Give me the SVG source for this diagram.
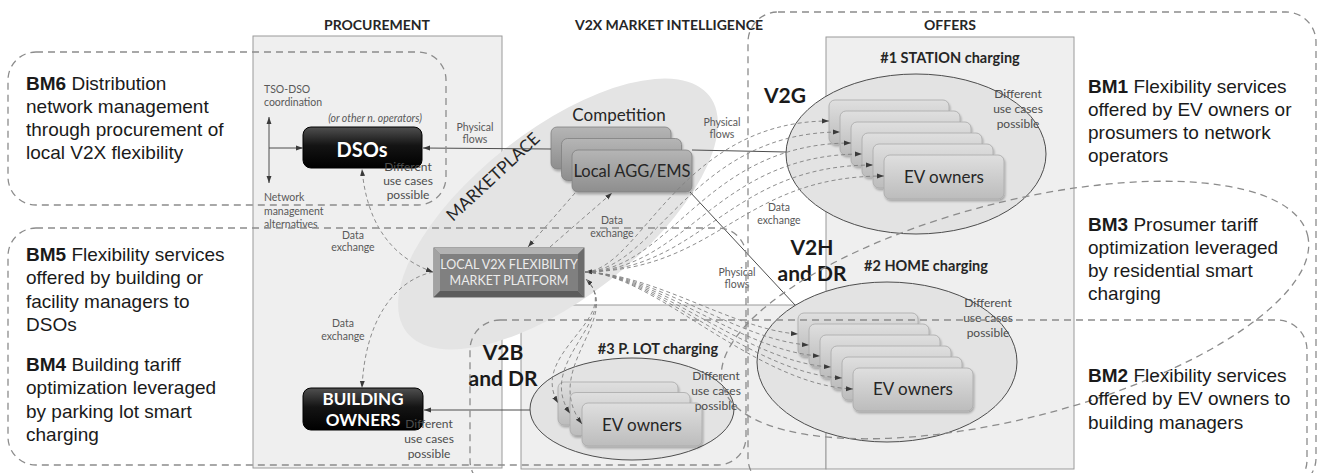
<svg xmlns="http://www.w3.org/2000/svg" width="1321" height="473" viewBox="0 0 1321 473">
<defs>
<linearGradient id="gBlk" x1="0" y1="0" x2="0" y2="1"><stop offset="0" stop-color="#505050"/><stop offset="0.45" stop-color="#141414"/><stop offset="1" stop-color="#000"/></linearGradient>
<linearGradient id="gEV" x1="0" y1="0" x2="0" y2="1"><stop offset="0" stop-color="#dfdfdf"/><stop offset="1" stop-color="#bcbcbc"/></linearGradient>
<linearGradient id="gAgg" x1="0" y1="0" x2="0" y2="1"><stop offset="0" stop-color="#b5b5b5"/><stop offset="1" stop-color="#8e8e8e"/></linearGradient>
<filter id="sh" x="-10%" y="-15%" width="125%" height="150%"><feDropShadow dx="1" dy="2" stdDeviation="1.3" flood-color="#000" flood-opacity="0.28"/></filter>
<marker id="ah" viewBox="0 0 10 10" refX="10" refY="5" markerUnits="userSpaceOnUse" markerWidth="7" markerHeight="7" orient="auto-start-reverse"><path d="M0,1.5 L10,5 L0,8.5 z" fill="#3a3a3a"/></marker>
<style>
.panel{fill:#efefef;stroke:#9a9a9a;stroke-width:1}
.ell{fill:#e3e3e3;stroke:#4d4d4d;stroke-width:1}
.ev{fill:url(#gEV);stroke:#a8a8a8;stroke-width:0.8}
.agg{fill:url(#gAgg);stroke:#808080;stroke-width:0.8}
.blk{fill:url(#gBlk);stroke:#000;stroke-width:1}
.bm{fill:none;stroke:#8c8c8c;stroke-width:1.3;stroke-dasharray:7 5}
.phys{fill:none;stroke:#4d4d4d;stroke-width:1}
.data{fill:none;stroke:#808080;stroke-width:0.9;stroke-dasharray:4 3}
.f{font-family:Lato,"Open Sans","DejaVu Sans",sans-serif}
.ttl{font-weight:bold;font-size:14px;fill:#262626;text-anchor:middle}
.hd{font-weight:bold;font-size:14.5px;fill:#262626;text-anchor:middle}
.v2{font-weight:bold;font-size:21px;fill:#1a1a1a;text-anchor:middle}
.sm{font-size:10.5px;fill:#595959;text-anchor:middle}
.sml{font-size:10.5px;fill:#595959}
.diff{font-size:12px;fill:#4d4d4d;text-anchor:middle}
.evt{font-size:17px;fill:#262626;text-anchor:middle}
.wt{font-weight:bold;fill:#fff;text-anchor:middle}
.bmt{font-family:"Liberation Sans",Arial,sans-serif;font-size:19px;fill:#1a1a1a}
</style>
</defs>
<rect width="1321" height="473" fill="#fff"/>

<!-- panels -->
<g id="panels">
<rect class="panel" x="253" y="36" width="249" height="432"/>
<rect class="panel" x="521" y="305" width="305" height="164" fill="#f3f3f3"/>
<rect class="panel" x="826" y="37" width="248" height="432"/>
</g>
<ellipse id="marketplace" cx="558" cy="214" rx="192" ry="84" transform="rotate(-38 558 214)" fill="#e4e4e4"/>
<text class="f" x="0" y="0" font-size="17" fill="#262626" text-anchor="middle" transform="translate(497 181) rotate(-43)">MARKETPLACE</text>

<!-- titles -->
<text class="f ttl" x="377" y="30">PROCUREMENT</text>
<text class="f ttl" x="669" y="30">V2X MARKET INTELLIGENCE</text>
<text class="f ttl" x="950" y="30">OFFERS</text>
<text class="f hd" x="950" y="63">#1 STATION charging</text>
<text class="f hd" x="926" y="271">#2 HOME charging</text>
<text class="f hd" x="658" y="354">#3 P. LOT charging</text>
<text class="f v2" x="785" y="103">V2G</text>
<text class="f v2" x="812" y="255">V2H</text>
<text class="f v2" x="812" y="281">and DR</text>
<text class="f v2" x="503" y="360">V2B</text>
<text class="f v2" x="503" y="386">and DR</text>

<!-- station -->
<g id="station-ev-owners">
<ellipse class="ell" cx="916" cy="154" rx="130" ry="80"/>
<g filter="url(#sh)">
<rect class="ev" x="829" y="100" width="120" height="44" rx="6"/>
<rect class="ev" x="840" y="111" width="120" height="44" rx="6"/>
<rect class="ev" x="851" y="122" width="120" height="44" rx="6"/>
<rect class="ev" x="862" y="133" width="120" height="44" rx="6"/>
<rect class="ev" x="873" y="144" width="120" height="44" rx="6"/>
<rect class="ev" x="884" y="155" width="120" height="44" rx="6"/>
</g>
<text class="f evt" x="944" y="183">EV owners</text>
</g>

<!-- home -->
<g id="home-ev-owners">
<ellipse class="ell" cx="887" cy="362" rx="130" ry="80"/>
<g filter="url(#sh)">
<rect class="ev" x="798" y="313" width="120" height="43" rx="6"/>
<rect class="ev" x="809" y="324" width="120" height="43" rx="6"/>
<rect class="ev" x="820" y="335" width="120" height="43" rx="6"/>
<rect class="ev" x="831" y="346" width="120" height="43" rx="6"/>
<rect class="ev" x="842" y="357" width="120" height="43" rx="6"/>
<rect class="ev" x="853" y="368" width="120" height="43" rx="6"/>
</g>
<text class="f evt" x="913" y="395">EV owners</text>
</g>

<!-- parking lot -->
<g id="plot-ev-owners">
<ellipse class="ell" cx="632" cy="409" rx="102" ry="51"/>
<g filter="url(#sh)">
<rect class="ev" x="558" y="382" width="120" height="43" rx="6"/>
<rect class="ev" x="570" y="392.5" width="120" height="43" rx="6"/>
<rect class="ev" x="582" y="403" width="120" height="43" rx="6"/>
</g>
<text class="f evt" x="642" y="431">EV owners</text>
</g>

<!-- aggregators -->
<g id="local-agg">
<text class="f" x="619" y="121" font-size="17" fill="#262626" text-anchor="middle">Competition</text>
<g filter="url(#sh)">
<rect class="agg" x="551" y="127" width="120" height="42" rx="6"/>
<rect class="agg" x="561.5" y="138.5" width="120" height="42" rx="6"/>
<rect class="agg" x="572" y="150" width="120" height="42" rx="6"/>
</g>
<text class="f" x="632" y="177" font-size="16.5" fill="#262626" text-anchor="middle">Local AGG/EMS</text>
</g>

<!-- platform -->
<g id="platform">
<rect x="434" y="248" width="150" height="49" fill="#858585" stroke="#666" stroke-width="1"/>
<polygon points="434,248 584,248 578,254 440,254" fill="#b3b3b3"/>
<polygon points="434,248 440,254 440,291 434,297" fill="#a2a2a2"/>
<polygon points="434,297 440,291 578,291 584,297" fill="#5c5c5c"/>
<polygon points="584,248 578,254 578,291 584,297" fill="#6c6c6c"/>
<rect x="440" y="254" width="138" height="37" fill="#808080"/>
<text class="f" x="509" y="269" font-size="12.5" fill="#ececec" text-anchor="middle">LOCAL V2X FLEXIBILITY</text>
<text class="f" x="509" y="285" font-size="12.5" fill="#ececec" text-anchor="middle">MARKET PLATFORM</text>
</g>

<!-- DSOs -->
<g id="dsos">
<rect class="blk" x="303" y="127" width="119" height="41" rx="8"/>
<text class="f wt" x="362" y="157" font-size="20">DSOs</text>
</g>

<!-- building owners -->
<g id="building-owners">
<rect class="blk" x="303" y="388" width="120" height="42" rx="8"/>
<text class="f wt" x="363" y="405" font-size="17">BUILDING</text>
<text class="f wt" x="363" y="426" font-size="17">OWNERS</text>
</g>

<!-- connectors -->
<g id="connectors">
<line class="phys" x1="269" y1="183" x2="269" y2="117" marker-start="url(#ah)" marker-end="url(#ah)"/>
<line class="phys" x1="269" y1="148" x2="303" y2="148" marker-end="url(#ah)"/>
<path class="phys" d="M551,149 L423,148" marker-end="url(#ah)"/>
<path class="phys" d="M786,152 L692,150"/>
<path class="phys" d="M690,192 L795,305"/>
<path class="phys" d="M530,410 L424,410" marker-end="url(#ah)"/>
<path class="data" d="M433,272 C385,255 366,215 362,169" marker-start="url(#ah)" marker-end="url(#ah)"/>
<path class="data" d="M433,272 C395,280 365,320 362,388" marker-end="url(#ah)"/>
<path class="data" d="M575,193 L528,247" marker-end="url(#ah)"/>
<path class="data" d="M550,247 L612,193" marker-end="url(#ah)"/>
<path class="data" d="M585,272 C640,270 680,121 829,121" marker-start="url(#ah)" marker-end="url(#ah)"/>
<path class="data" d="M585,272 C656,270 692,132 840,132" marker-end="url(#ah)"/>
<path class="data" d="M585,272 C672,270 704,143 851,143" marker-end="url(#ah)"/>
<path class="data" d="M585,272 C688,270 716,154 862,154" marker-end="url(#ah)"/>
<path class="data" d="M585,272 C704,270 728,165 873,165" marker-end="url(#ah)"/>
<path class="data" d="M585,272 C720,270 740,176 884,176" marker-end="url(#ah)"/>
<path class="data" d="M585,272 C655,274 735,330 798,334" marker-end="url(#ah)"/>
<path class="data" d="M585,272 C655,274 739,341 809,345" marker-end="url(#ah)"/>
<path class="data" d="M585,272 C655,274 743,352 820,356" marker-end="url(#ah)"/>
<path class="data" d="M585,272 C655,274 747,363 831,367" marker-end="url(#ah)"/>
<path class="data" d="M585,272 C655,274 751,374 842,378" marker-end="url(#ah)"/>
<path class="data" d="M585,272 C655,274 755,385 853,389" marker-end="url(#ah)"/>
<path class="data" d="M586,279 C625,318 528,352 558,403" marker-start="url(#ah)" marker-end="url(#ah)"/>
<path class="data" d="M586,279 C625,318 534,360 570,413.5" marker-end="url(#ah)"/>
<path class="data" d="M586,279 C625,318 540,368 582,424" marker-end="url(#ah)"/>
</g>

<!-- small labels -->
<g id="labels" class="f">
<text class="sml" x="264" y="93">TSO-DSO</text>
<text class="sml" x="264" y="106">coordination</text>
<text class="sm" x="375" y="122" font-style="italic" font-size="10">(or other n. operators)</text>
<text class="sml" x="264" y="201">Network</text>
<text class="sml" x="264" y="215">management</text>
<text class="sml" x="264" y="228">alternatives</text>
<text class="sm" x="475" y="131">Physical</text>
<text class="sm" x="475" y="143">flows</text>
<text class="sm" x="722" y="126">Physical</text>
<text class="sm" x="722" y="138">flows</text>
<text class="sm" x="737" y="276">Physical</text>
<text class="sm" x="737" y="288">flows</text>
<text class="sm" x="353" y="239">Data</text>
<text class="sm" x="353" y="251">exchange</text>
<text class="sm" x="343" y="327">Data</text>
<text class="sm" x="343" y="340">exchange</text>
<text class="sm" x="612" y="224">Data</text>
<text class="sm" x="612" y="237">exchange</text>
<text class="sm" x="779" y="211">Data</text>
<text class="sm" x="779" y="224">exchange</text>
<text class="diff" x="408" y="171">Different</text>
<text class="diff" x="408" y="185">use cases</text>
<text class="diff" x="408" y="199">possible</text>
<text class="diff" x="429" y="428">Different</text>
<text class="diff" x="429" y="443">use cases</text>
<text class="diff" x="429" y="458">possible</text>
<text class="diff" x="716" y="380">Different</text>
<text class="diff" x="716" y="395">use cases</text>
<text class="diff" x="716" y="410">possible</text>
<text class="diff" x="988" y="307">Different</text>
<text class="diff" x="988" y="322">use cases</text>
<text class="diff" x="988" y="337">possible</text>
<text class="diff" x="1018" y="98">Different</text>
<text class="diff" x="1018" y="113">use cases</text>
<text class="diff" x="1018" y="128">possible</text>
</g>

<!-- business model regions -->
<g id="bm-regions">
<rect class="bm" x="8" y="52" width="438" height="153" rx="28"/>
<rect class="bm" x="8" y="228" width="738" height="237" rx="28"/>
<rect class="bm" x="748" y="12" width="568" height="476" rx="30"/>
<rect class="bm" x="470" y="320" width="837" height="170" rx="30"/>
<ellipse class="bm" cx="1015" cy="310" rx="302" ry="108" transform="rotate(-14.4 1015 310)"/>
</g>

<g id="bm-texts" class="bmt">
<text x="26" y="90"><tspan font-weight="bold">BM6</tspan> Distribution</text>
<text x="26" y="113">network management</text>
<text x="26" y="136">through procurement of</text>
<text x="26" y="159">local V2X flexibility</text>
<text x="26" y="261"><tspan font-weight="bold">BM5</tspan> Flexibility services</text>
<text x="26" y="284">offered by building or</text>
<text x="26" y="308">facility managers to</text>
<text x="26" y="331">DSOs</text>
<text x="26" y="371"><tspan font-weight="bold">BM4</tspan> Building tariff</text>
<text x="26" y="394">optimization leveraged</text>
<text x="26" y="418">by parking lot smart</text>
<text x="26" y="441">charging</text>
<text x="1088" y="93"><tspan font-weight="bold">BM1</tspan> Flexibility services</text>
<text x="1088" y="116">offered by EV owners or</text>
<text x="1088" y="139">prosumers to network</text>
<text x="1088" y="162">operators</text>
<text x="1088" y="231"><tspan font-weight="bold">BM3</tspan> Prosumer tariff</text>
<text x="1088" y="254">optimization leveraged</text>
<text x="1088" y="277">by residential smart</text>
<text x="1088" y="300">charging</text>
<text x="1088" y="382"><tspan font-weight="bold">BM2</tspan> Flexibility services</text>
<text x="1088" y="405">offered by EV owners to</text>
<text x="1088" y="429">building managers</text>
</g>
</svg>
